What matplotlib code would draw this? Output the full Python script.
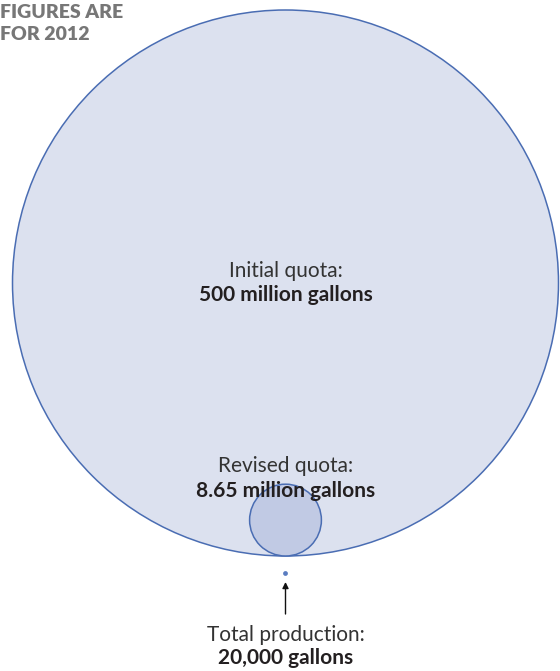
import matplotlib
matplotlib.use("Agg")
import matplotlib.pyplot as plt
from matplotlib.patches import Circle
import numpy as np

# Data (gallons)
labels = ["Initial quota:", "Revised quota:", "Total production:"]
value_labels = ["500 million gallons", "8.65 million gallons", "20,000 gallons"]
values = [500_000_000, 8_650_000, 20_000]

plt.rcParams['font.family'] = ['Lato', 'DejaVu Sans']

W, H = 560, 671
fig = plt.figure(figsize=(W / 100, H / 100), dpi=100)
ax = fig.add_axes([0, 0, 1, 1])
ax.set_xlim(0, W)
ax.set_ylim(H, 0)
ax.set_aspect('equal')
ax.axis('off')

# scale: area proportional to value
R_big = 273.0
k = R_big / np.sqrt(values[0])
radii = [k * np.sqrt(v) for v in values]

cx = 285.5
bottom = 556.0
edge = '#4a6db3'
fills = ['#dce1ef', '#c1cae4']

for r, fc in zip(radii[:2], fills):
    ax.add_patch(Circle((cx, bottom - r), r, facecolor=fc, edgecolor=edge, linewidth=1.1, zorder=2))

dot_y = 573.5
ax.add_patch(Circle((cx, dot_y), max(radii[2], 2.4), facecolor='#5a7cc0', edgecolor='none', zorder=3))

txt = '#231f20'
fs = 15
ax.text(cx, 271, labels[0], ha='center', va='center', fontsize=fs, color='#333333')
ax.text(cx, 295, value_labels[0], ha='center', va='center', fontsize=fs, fontweight='bold', color=txt)
ax.text(cx, 466, labels[1], ha='center', va='center', fontsize=fs, color='#333333')
ax.text(cx, 491, value_labels[1], ha='center', va='center', fontsize=fs, fontweight='bold', color=txt)
ax.text(cx, 635, labels[2], ha='center', va='center', fontsize=fs, color='#333333')
ax.text(cx, 658, value_labels[2], ha='center', va='center', fontsize=fs, fontweight='bold', color=txt)

ax.annotate('', xy=(cx, 582), xytext=(cx, 614),
            arrowprops=dict(arrowstyle='-|>', color='#111111', lw=1.0,
                            mutation_scale=9, shrinkA=0, shrinkB=0))

ax.text(0, 12, "FIGURES ARE", ha='left', va='center', fontsize=14, fontweight='heavy', color='#777777')
ax.text(0, 35, "FOR 2012", ha='left', va='center', fontsize=14, fontweight='heavy', color='#777777')

fig.savefig('out.png', dpi=100)
